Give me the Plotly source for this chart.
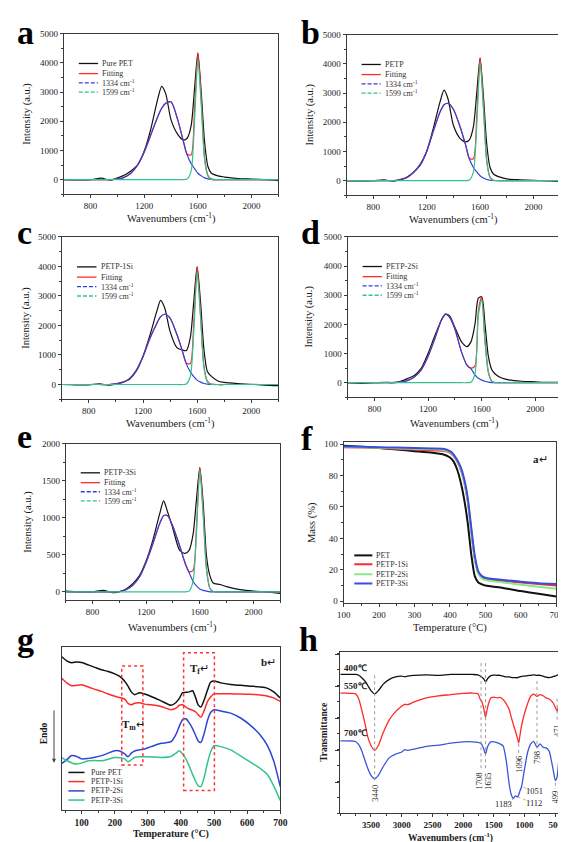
import plotly.graph_objects as go

W, H = 566, 842
SERIF = "Liberation Serif"
INK = "#1a1a1a"

# ---------------- Raman data (panels a-e) ----------------
RAMAN_X = [600, 700, 800, 880, 950, 1000, 1050, 1100, 1150, 1200, 1250, 1300, 1330, 1360, 1400,
           1450, 1490, 1520, 1550, 1575, 1600, 1625, 1650, 1675, 1700, 1750, 1800, 1900, 2000, 2100, 2200]

A_RAW = [0, -10, 0, 50, -20, 60, 150, 300, 500, 980, 1750, 2750, 3200, 2950, 2050,
         1550, 1360, 1420, 1850, 3100, 4350, 3000, 1300, 450, 230, 130, 90, 40, 20, 0, -30]
A_1334 = [0, 0, 0, 0, 0, 20, 80, 220, 500, 950, 1550, 2150, 2450, 2620, 2670,
          2050, 1350, 850, 550, 380, 220, 130, 60, 25, 10, 0, 0, 0, 0, 0, 0]
A_1599 = [0, 0, 0, 0, 0, 0, 0, 0, 0, 0, 0, 0, 0, 0, 0,
          0, 0, 20, 300, 2000, 4100, 2600, 700, 120, 10, 0, 0, 0, 0, 0, 0]
A_FIT = [0, 0, 0, 0, 0, 20, 80, 220, 500, 950, 1550, 2150, 2450, 2620, 2670,
         2050, 1350, 870, 850, 2380, 4320, 2730, 760, 145, 20, 0, 0, 0, 0, 0, 0]

B_RAW = [0, -10, 0, 30, -20, 40, 120, 280, 520, 1000, 1800, 2700, 3100, 2800, 1900,
         1450, 1330, 1400, 1850, 3000, 4200, 2900, 1250, 450, 230, 120, 60, 30, 10, 0, -30]
B_1334 = [0, 0, 0, 0, 0, 30, 100, 280, 550, 1000, 1700, 2350, 2600, 2650, 2450,
          1850, 1250, 740, 450, 300, 170, 90, 40, 15, 5, 0, 0, 0, 0, 0, 0]
B_1599 = [0, 0, 0, 0, 0, 0, 0, 0, 0, 0, 0, 0, 0, 0, 0,
          0, 0, 20, 300, 1900, 4050, 2500, 650, 100, 10, 0, 0, 0, 0, 0, 0]
B_FIT = [0, 0, 0, 0, 0, 30, 100, 280, 550, 1000, 1700, 2350, 2600, 2650, 2450,
         1850, 1250, 760, 750, 2200, 4220, 2590, 690, 115, 15, 0, 0, 0, 0, 0, 0]

C_RAW = [0, -10, -10, 20, -20, 20, 80, 180, 450, 950, 1650, 2450, 2850, 2600, 1800,
         1250, 1170, 1150, 1600, 2800, 3990, 2800, 1200, 450, 300, 130, 70, 30, 10, -20, -40]
C_1334 = [0, 0, 0, 0, 0, 20, 70, 200, 480, 950, 1550, 2050, 2300, 2380, 2250,
          1700, 1150, 700, 430, 270, 150, 80, 35, 15, 5, 0, 0, 0, 0, 0, 0]
C_1599 = [0, 0, 0, 0, 0, 0, 0, 0, 0, 0, 0, 0, 0, 0, 0,
          0, 0, 20, 280, 1800, 3800, 2300, 600, 100, 10, 0, 0, 0, 0, 0, 0]
C_FIT = [0, 0, 0, 0, 0, 20, 70, 200, 480, 950, 1550, 2050, 2300, 2380, 2250,
         1700, 1150, 720, 710, 2070, 3950, 2380, 635, 115, 15, 0, 0, 0, 0, 0, 0]

D_RAW = [0, -20, 0, 10, 10, 60, 150, 260, 500, 1000, 1600, 2150, 2350, 2300, 1900,
         1400, 1240, 1400, 2000, 2900, 2950, 2000, 900, 450, 300, 160, 100, 50, 30, 10, 10]
D_1334 = [0, 0, 0, 0, 0, 30, 80, 200, 450, 900, 1500, 2150, 2350, 2250, 1850,
          1050, 600, 480, 270, 150, 90, 50, 20, 5, 0, 0, 0, 0, 0, 0, 0]
D_1599 = [0, 0, 0, 0, 0, 0, 0, 0, 0, 0, 0, 0, 0, 0, 0,
          0, 0, 20, 300, 2300, 2850, 1400, 350, 50, 5, 0, 0, 0, 0, 0, 0]
D_FIT = [0, 0, 0, 0, 0, 30, 80, 200, 450, 900, 1500, 2150, 2350, 2250, 1850,
         1050, 600, 500, 570, 2450, 2940, 1450, 370, 55, 5, 0, 0, 0, 0, 0, 0]

E_RAW = [10, 0, 0, 20, -10, 0, 40, 110, 220, 420, 700, 1050, 1230, 1080, 850,
         560, 520, 560, 780, 1250, 1680, 1200, 480, 220, 120, 100, 70, 30, 10, 0, -20]
E_1334 = [0, 0, 0, 0, 0, 5, 30, 90, 200, 400, 650, 920, 1030, 1030, 880,
          620, 390, 260, 140, 80, 40, 20, 10, 0, 0, 0, 0, 0, 0, 0, 0]
E_1599 = [0, 0, 0, 0, 0, 0, 0, 0, 0, 0, 0, 0, 0, 0, 0,
          0, 0, 10, 150, 800, 1640, 1050, 300, 50, 5, 0, 0, 0, 0, 0, 0]
E_FIT = [0, 0, 0, 0, 0, 5, 30, 90, 200, 400, 650, 920, 1030, 1030, 880,
         620, 390, 270, 290, 880, 1680, 1070, 310, 50, 5, 0, 0, 0, 0, 0, 0]

RAMAN_NAMES = ["Pure PET", "PETP", "PETP-1Si", "PETP-2Si", "PETP-3Si"]
FIT_LABEL = "Fitting"
BAND_LABELS = ["1334 cm<sup>-1</sup>", "1599 cm<sup>-1</sup>"]
RAMAN_XTITLE = "Wavenumbers (cm<sup>-1</sup>)"
RAMAN_YTITLE = "Intensity (a.u.)"

# ---------------- TGA (panel f) ----------------
TGA_X = [100, 150, 200, 250, 300, 350, 380, 400, 410, 420, 430, 440, 450, 460, 470, 480, 490, 500, 550, 600, 650, 700]
TGA_PET = [99, 98.3, 97.5, 96.5, 95.5, 94.5, 93.5, 91.5, 89, 84, 76, 65, 50, 30, 16, 12, 10.8, 10, 8.5, 6.5, 4.8, 3]
TGA_1SI = [98, 97.8, 97.5, 97, 96.5, 96, 95.8, 94.5, 92.5, 89, 84, 76, 64, 45, 27, 18, 15, 14, 13, 12, 11, 10]
TGA_2SI = [98.2, 98, 97.7, 97.3, 97, 96.7, 96.3, 95, 93, 89.5, 84.5, 76.5, 64.5, 45.5, 27, 17.5, 14.5, 13.5, 12, 10.5, 9.2, 8]
TGA_3SI = [98.5, 98.3, 98, 97.8, 97.5, 97.2, 97, 95.5, 93.5, 90, 85.5, 78, 66, 47, 29, 19, 16, 15, 13.5, 12.5, 11.5, 11]
TGA_NAMES = ["PET", "PETP-1Si", "PETP-2Si", "PETP-3Si"]

# ---------------- DSC (panel g), arbitrary heat-flow units ----------------
DSC_X = [40, 55, 70, 85, 100, 120, 140, 160, 180, 200, 215, 230, 240, 250, 260, 275, 290, 310, 340, 370,
         385, 395, 405, 415, 425, 435, 445, 452, 460, 470, 480, 490, 500, 520, 550, 580, 610, 640, 660, 680, 700]
DSC_PET = [94, 91.5, 90.3, 90.8, 90.5, 89, 87.5, 86, 85, 83.5, 82, 79, 76, 72.5, 70.8, 72, 71.2, 69.7, 67, 64.3,
           66, 68.5, 72, 72.2, 72.5, 73.2, 68.5, 64.5, 63.2, 67.5, 73.5, 78.5, 79.2, 78, 77, 76.5, 76, 75.5, 74.8, 72.5, 68.7]
DSC_1SI = [80.8, 78, 76.2, 76.5, 76.8, 75.5, 74, 72.8, 71.2, 69.8, 69, 68, 65.5, 64.6, 65.5, 65.8, 65, 64.6, 63.5, 61.6,
           62.5, 64.3, 64.6, 63.2, 62, 61.2, 60.2, 58.5, 57, 61, 66.5, 69.5, 71.3, 71.3, 71.3, 71.2, 71, 70.6, 70, 68.8, 66.7]
DSC_2SI = [28.7, 31, 33.5, 33, 31.5, 31.8, 32.5, 33.5, 35, 36.5, 36.3, 34.5, 32.8, 35, 36.3, 37, 37.5, 39, 41, 42,
           46.5, 51.5, 55.5, 56, 53.5, 50, 45.5, 42.5, 41.5, 47, 55, 60, 61.6, 60.8, 59.5, 56.5, 52, 46, 40, 30.3, 14.6]
DSC_3SI = [32.3, 30.5, 29, 28.3, 29, 30.3, 30.5, 30.3, 31.3, 32.3, 32.2, 31.5, 29.8, 31, 32.3, 32.8, 32.8, 32.7, 32.4, 33,
           35, 36.4, 34.5, 31.5, 27, 22, 17.5, 15, 14.5, 20, 29, 36, 39.6, 39, 37, 33.3, 29.5, 25.5, 22.2, 15, 6]
DSC_NAMES = ["Pure PET", "PETP-1Si", "PETP-2Si", "PETP-3Si"]

# ---------------- FTIR (panel h), arbitrary transmittance units ----------------
FTIR_X = [4000, 3900, 3800, 3750, 3700, 3650, 3600, 3550, 3500, 3440, 3380, 3300, 3200, 3100, 3000,
          2950, 2900, 2800, 2600, 2400, 2200, 2000, 1850, 1760, 1720, 1700, 1670, 1635, 1600, 1550,
          1500, 1450, 1400, 1350, 1300, 1250, 1220, 1183, 1150, 1112, 1096, 1080, 1051, 1000, 950,
          900, 850, 798, 750, 700, 650, 600, 560, 530, 499, 471, 450, 420, 400]
FTIR_400 = [86, 86, 86, 86, 85.5, 84, 82, 79, 76, 74, 76, 80, 83, 84.5, 85,
            84.5, 85, 85.5, 85.8, 85.5, 86, 86, 86, 85.8, 85, 84.5, 83.5, 81.5, 83.5, 85.3,
            85.6, 85.5, 85.5, 85, 84.5, 84.5, 84.2, 84, 84, 84, 84.3, 84.5, 84.8, 85, 85.3,
            85.5, 85.8, 85.5, 85.5, 85, 84.3, 84, 84.3, 84.8, 85, 85.5, 86, 86.2, 86.2]
FTIR_550 = [74.5, 74.5, 74.3, 74, 71, 64, 56, 47, 42, 39, 42, 50, 58, 63, 66.3,
            67.5, 67.3, 69, 71.5, 72.8, 73.5, 74.3, 74.5, 74, 70.5, 69.5, 66, 59.6, 66, 71.4,
            72, 71.5, 71.8, 70.5, 68, 64.3, 60, 55, 51, 46, 43.5, 47, 54, 62, 68,
            72.5, 73.8, 72.4, 73.5, 72.8, 71.5, 70.8, 69.5, 68, 65.5, 63.3, 66, 71.5, 76.5]
FTIR_700 = [44.9, 44.9, 44.8, 44.5, 42.5, 38.8, 33, 27.6, 23.5, 21.4, 23.5, 29, 34.5, 36.7, 38,
            39.4, 39, 39.8, 41.5, 42.2, 43.5, 44.3, 44.3, 44, 43.5, 42.8, 40.5, 36.7, 41.5, 44.3,
            44.3, 43.8, 43, 41.8, 33, 18, 12, 9.2, 10.8, 10.2, 11.5, 13.3, 16.3, 27.6, 37.8,
            43, 44.5, 41, 43, 41, 40.5, 38.5, 32, 26, 20.4, 22.5, 30, 40, 44.9]
FTIR_TEMPS = ["400℃", "550℃", "700℃"]
FTIR_PEAKS = ["3440", "1708", "1635", "1096", "798", "471", "499", "1051", "1112", "1183"]
FTIR_TICKS = [3500, 3000, 2500, 2000, 1500, 1000, 500]

# ---------------- layout helpers ----------------
BOX = {1: (50, 21, 270, 183), 2: (340, 22, 559, 184), 3: (48, 226, 270, 390), 4: (341, 226, 561, 388),
       5: (52, 435, 272, 593), 6: (337, 433, 555, 596), 7: (48, 640, 272, 805), 8: (333.5, 645, 560.3, 808)}
# pixel centre of x-title (y) and y-title (x) for every panel
XTITLE_Y = {1: 207, 2: 208, 3: 414, 4: 414, 5: 620, 6: 621, 7: 829, 8: 832}
YTITLE_X = {1: 12, 2: 302, 3: 11, 4: 302, 5: 13, 6: 304, 8: 316}


def xdom(i):
    x0, y0, x1, y1 = BOX[i]
    return [x0 / W, x1 / W]


def ydom(i):
    x0, y0, x1, y1 = BOX[i]
    return [1 - y1 / H, 1 - y0 / H]


def ax_id(i, letter):
    return letter if i == 1 else f"{letter}{i}"


def base_axis(size=9, bold=False):
    return dict(showline=True, linecolor="#3a3a3a", linewidth=1, mirror=True,
                ticks="outside", ticklen=3, tickwidth=0.8, tickcolor="#3a3a3a",
                showgrid=False, zeroline=False,
                tickfont=dict(family=SERIF, size=size, color=INK, weight="bold" if bold else "normal"))


fig = go.Figure()
layout = dict(width=W, height=H, margin=dict(l=0, r=0, t=0, b=0),
              paper_bgcolor="white", plot_bgcolor="white", showlegend=False)
annotations = []
shapes = []


def add_titles(i, xt, yt, size=10.5, bold=False):
    x0, y0, x1, y1 = BOX[i]
    b0, b1 = ("<b>", "</b>") if bold else ("", "")
    annotations.append(dict(xref="paper", yref="paper", x=(x0 + x1) / 2 / W, y=1 - XTITLE_Y[i] / H,
                            text=b0 + xt + b1, showarrow=False, xanchor="center", yanchor="middle",
                            font=dict(family=SERIF, size=size, color=INK)))
    if yt:
        annotations.append(dict(xref="paper", yref="paper", x=YTITLE_X[i] / W, y=1 - (y0 + y1) / 2 / H,
                                text=b0 + yt + b1, textangle=-90, showarrow=False,
                                xanchor="center", yanchor="middle",
                                font=dict(family=SERIF, size=size, color=INK)))


def add_legend(i, items, x0, x1, xt, rows, fs=8, color="#333"):
    xr = ax_id(i, "x") + " domain"
    yr = ax_id(i, "y") + " domain"
    for (label, col, dash, w), yy in zip(items, rows):
        shapes.append(dict(type="line", xref=xr, yref=yr, x0=x0, x1=x1, y0=yy, y1=yy,
                           line=dict(color=col, width=w, dash=dash)))
        annotations.append(dict(xref=xr, yref=yr, x=xt, y=yy, text=label, showarrow=False,
                                xanchor="left", yanchor="middle",
                                font=dict(family=SERIF, size=fs, color=color)))


# ---------------- Raman panels ----------------
RAMAN_COLORS = ["#111111", "#ff2a2a", "#3440d8", "#33c28e"]
raman_sets = [(A_RAW, A_FIT, A_1334, A_1599), (B_RAW, B_FIT, B_1334, B_1599),
              (C_RAW, C_FIT, C_1334, C_1599), (D_RAW, D_FIT, D_1334, D_1599),
              (E_RAW, E_FIT, E_1334, E_1599)]
for k, series in enumerate(raman_sets):
    i = k + 1
    for ys, col in zip(series, RAMAN_COLORS):
        fig.add_trace(go.Scatter(x=RAMAN_X, y=ys, mode="lines",
                                 line=dict(color=col, width=1.2, shape="spline", smoothing=0.7),
                                 xaxis=ax_id(i, "x"), yaxis=ax_id(i, "y"), hoverinfo="skip"))
    xa = base_axis()
    xa.update(domain=xdom(i), anchor=ax_id(i, "y"), range=[600, 2200], tick0=0, dtick=400,
              minor=dict(ticks="outside", ticklen=2, dtick=200, tickcolor="#3a3a3a"))
    ya = base_axis()
    if i == 5:
        ya.update(range=[-115, 2000], tick0=0, dtick=500,
                  minor=dict(ticks="outside", ticklen=2, dtick=250, tickcolor="#3a3a3a"))
    else:
        ya.update(range=[-500, 5000], tick0=0, dtick=1000,
                  minor=dict(ticks="outside", ticklen=2, dtick=500, tickcolor="#3a3a3a"))
    ya.update(domain=ydom(i), anchor=ax_id(i, "x"))
    layout["xaxis" if i == 1 else f"xaxis{i}"] = xa
    layout["yaxis" if i == 1 else f"yaxis{i}"] = ya
    add_titles(i, RAMAN_XTITLE, RAMAN_YTITLE)
    items = [(RAMAN_NAMES[k], RAMAN_COLORS[0], "solid", 1.3), (FIT_LABEL, RAMAN_COLORS[1], "solid", 1.3),
             (BAND_LABELS[0], RAMAN_COLORS[2], "4px,2px", 1.3), (BAND_LABELS[1], RAMAN_COLORS[3], "4px,2px", 1.3)]
    add_legend(i, items, 0.07, 0.16, 0.17, [0.815, 0.752, 0.694, 0.636])

# ---------------- TGA panel f ----------------
TGA_COLORS = ["#111111", "#ff2a2a", "#86ea86", "#3a4de0"]
for ys, col in zip([TGA_PET, TGA_1SI, TGA_2SI, TGA_3SI], TGA_COLORS):
    fig.add_trace(go.Scatter(x=TGA_X, y=ys, mode="lines",
                             line=dict(color=col, width=2, shape="spline", smoothing=0.6),
                             xaxis="x6", yaxis="y6", hoverinfo="skip"))
xa = base_axis()
xa.update(domain=xdom(6), anchor="y6", range=[100, 700], dtick=100,
          minor=dict(ticks="outside", ticklen=2, dtick=50, tickcolor="#3a3a3a"))
ya = base_axis()
ya.update(domain=ydom(6), anchor="x6", range=[-1.3, 101.4], tick0=0, dtick=20,
          minor=dict(ticks="outside", ticklen=2, dtick=10, tickcolor="#3a3a3a"))
layout["xaxis6"] = xa
layout["yaxis6"] = ya
add_titles(6, "Temperature (°C)", "Mass (%)")
add_legend(6, [(n, c, "solid", 2) for n, c in zip(TGA_NAMES, TGA_COLORS)],
           0.05, 0.135, 0.145, [0.297, 0.242, 0.18, 0.123])
annotations.append(dict(xref="x6", yref="y6", x=628, y=90.5, text="<b>a</b>↵", showarrow=False,
                        xanchor="left", yanchor="middle", font=dict(family=SERIF, size=11, color=INK)))

# ---------------- DSC panel g ----------------
DSC_COLORS = ["#111111", "#ff2a2a", "#2f45d6", "#35c487"]
for ys, col in zip([DSC_PET, DSC_1SI, DSC_2SI, DSC_3SI], DSC_COLORS):
    fig.add_trace(go.Scatter(x=DSC_X, y=ys, mode="lines",
                             line=dict(color=col, width=1.5, shape="spline", smoothing=0.7),
                             xaxis="x7", yaxis="y7", hoverinfo="skip"))
xa = base_axis(size=9.5, bold=True)
xa.update(domain=xdom(7), anchor="y7", range=[40, 700], dtick=100,
          minor=dict(ticks="outside", ticklen=2, dtick=50, tickcolor="#3a3a3a"))
ya = base_axis()
ya.update(domain=ydom(7), anchor="x7", range=[0, 100], ticks="", showticklabels=False)
layout["xaxis7"] = xa
layout["yaxis7"] = ya
add_titles(7, "Temperature (°C)", None, size=10, bold=True)
add_legend(7, [(n, c, "solid", 1.5) for n, c in zip(DSC_NAMES, DSC_COLORS)],
           0.03, 0.104, 0.124, [0.232, 0.176, 0.119, 0.063])
for (x0, x1, y0, y1) in [(221, 285, 27.7, 88.3), (408, 501, 12.1, 96.4)]:
    shapes.append(dict(type="rect", xref="x7", yref="y7", x0=x0, x1=x1, y0=y0, y1=y1,
                       line=dict(color="#ff3030", width=1.5, dash="dot")))
for txt, x, y in [("<b>T<sub>m</sub></b>↵", 256, 52), ("<b>T<sub>f</sub></b>↵", 455, 86.5), ("<b>b</b>↵", 663, 91)]:
    annotations.append(dict(xref="x7", yref="y7", x=x, y=y, text=txt, showarrow=False,
                            xanchor="center", yanchor="middle", font=dict(family=SERIF, size=11, color=INK)))
# Endo arrow
annotations.append(dict(xref="paper", yref="paper", x=40 / W, y=1 - 757 / H, ax=0, ay=-54,
                        axref="pixel", ayref="pixel", text="", showarrow=True, arrowhead=2,
                        arrowsize=0.8, arrowwidth=1, arrowcolor="#444"))
annotations.append(dict(xref="paper", yref="paper", x=30 / W, y=1 - 727 / H, text="<b>Endo</b>",
                        textangle=-90, showarrow=False, xanchor="center", yanchor="middle",
                        font=dict(family=SERIF, size=9.5, color=INK)))

# ---------------- FTIR panel h ----------------
FTIR_COLORS = ["#111111", "#ff2a2a", "#3a56d8"]
for ys, col in zip([FTIR_400, FTIR_550, FTIR_700], FTIR_COLORS):
    fig.add_trace(go.Scatter(x=FTIR_X, y=ys, mode="lines",
                             line=dict(color=col, width=1.3, shape="spline", smoothing=0.6),
                             xaxis="x8", yaxis="y8", hoverinfo="skip"))
xa = base_axis(size=9, bold=True)
xa.update(domain=xdom(8), anchor="y8", range=[4000, 400], tickvals=FTIR_TICKS,
          minor=dict(ticks="outside", ticklen=2, tick0=0, dtick=250, tickcolor="#3a3a3a"))
ya = base_axis()
ya.update(domain=ydom(8), anchor="x8", range=[0, 100], tick0=-0.6, dtick=19.8, showticklabels=False,
          ticklen=4, minor=dict(ticks="outside", ticklen=2, dtick=9.9, tickcolor="#3a3a3a"))
layout["xaxis8"] = xa
layout["yaxis8"] = ya
add_titles(8, "Wavenumbers (cm<sup>-1</sup>)", "Transmittance", size=9.5, bold=True)
# guide lines at peak positions
for w, y0, y1 in [(3440, 85.5, 20), (1708, 93, 27), (1635, 93, 27), (1096, 43, 37),
                  (798, 82, 40), (471, 71, 57), (499, 19, 15)]:
    shapes.append(dict(type="line", xref="x8", yref="y8", x0=w, x1=w, y0=y0, y1=y1,
                       line=dict(color="#9a9a9a", width=1, dash="dot")))
for (w0, y0, w1, y1) in [(1019, 16.3, 913, 14.3), (1114, 10.2, 913, 7.1), (1283, 6.1, 1187, 8.8)]:
    shapes.append(dict(type="line", xref="x8", yref="y8", x0=w0, x1=w1, y0=y0, y1=y1,
                       line=dict(color="#9a9a9a", width=0.8, dash="dot")))
vpos = {"3440": (3440, 12.5), "1708": (1735, 20), "1635": (1600, 20), "1096": (1096, 30.5),
        "798": (798, 35), "471": (471, 51), "499": (499, 10)}
hpos = {"1051": (840, 14), "1112": (840, 6.5), "1183": (1340, 5.5)}
for lab in FTIR_PEAKS:
    if lab in vpos:
        w, y = vpos[lab]
        annotations.append(dict(xref="x8", yref="y8", x=w, y=y, text=lab, textangle=-90, showarrow=False,
                                xanchor="center", yanchor="middle",
                                font=dict(family=SERIF, size=8.5, color="#222")))
    else:
        w, y = hpos[lab]
        annotations.append(dict(xref="x8", yref="y8", x=w, y=y, text=lab, showarrow=False,
                                xanchor="center", yanchor="middle",
                                font=dict(family=SERIF, size=8.5, color="#222")))
for txt, y in zip(FTIR_TEMPS, [89.8, 79, 49.6]):
    annotations.append(dict(xref="x8", yref="y8", x=3975, y=y, text=f"<b>{txt}</b>", showarrow=False,
                            xanchor="left", yanchor="middle", font=dict(family=SERIF, size=9, color=INK)))

# ---------------- panel letters (top of text box in pixels) ----------------
for letter, px, top in [("a", 1, 0), ("b", 292, 0), ("c", 1, 202), ("d", 292, 202),
                        ("e", 1, 408), ("f", 292, 410), ("g", 1, 613), ("h", 290, 613)]:
    annotations.append(dict(xref="paper", yref="paper", x=px / W, y=1 - top / H, borderpad=0,
                            text=f"<b>{letter}</b>", showarrow=False, xanchor="left", yanchor="top",
                            font=dict(family=SERIF, size=34, color="#000")))

layout["annotations"] = annotations
layout["shapes"] = shapes
fig.update_layout(**layout)
fig.write_html("out.html")
